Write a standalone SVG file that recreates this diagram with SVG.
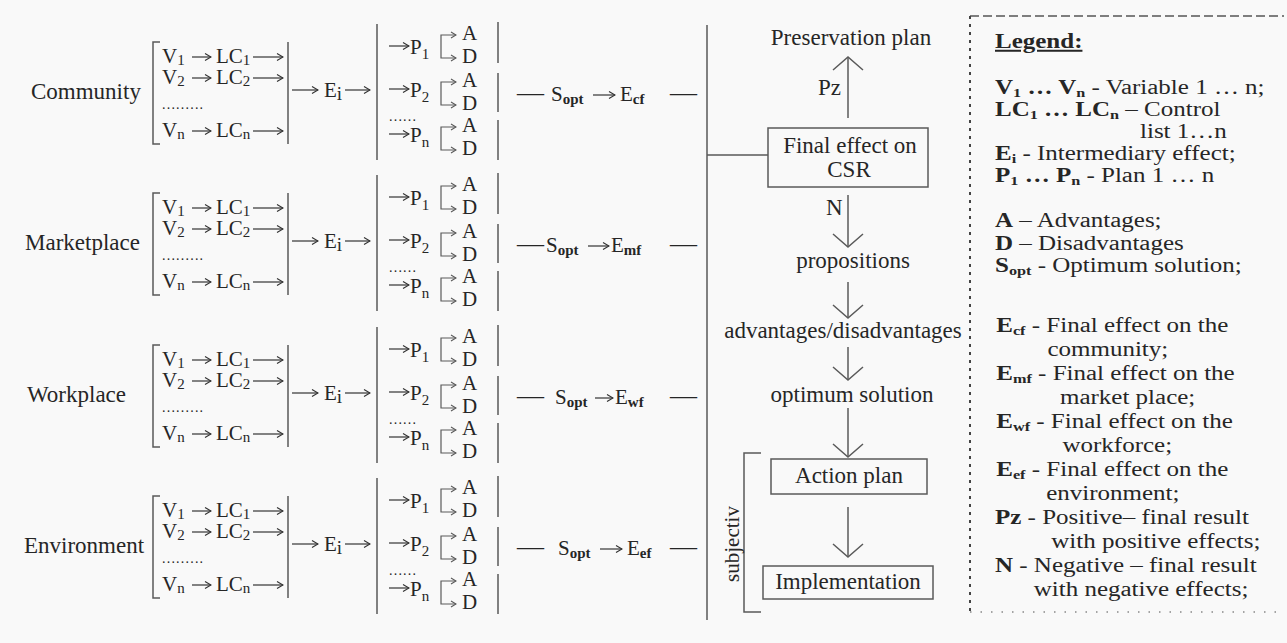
<svg xmlns="http://www.w3.org/2000/svg" width="1287" height="643" viewBox="0 0 1287 643">
<style>
.t{font-family:"Liberation Serif","Tinos","DejaVu Serif","Noto Serif",serif;fill:#262626}
.lb{font-size:23px}
.f{font-size:21px}
.s{font-size:15px}
.bs{font-size:15px;font-weight:bold}
.dots{font-size:14px;letter-spacing:1.2px}
.dash{font-size:27px}
.ln{stroke:#5a5a5a;stroke-width:1.5;fill:none}
.ar{stroke:#333;stroke-width:1.2;fill:none;marker-end:url(#ah)}
.ad{stroke:#5a5a5a;stroke-width:1.2;fill:none;marker-end:url(#sm)}
.flow{stroke:#5a5a5a;stroke-width:1.5;fill:none;marker-end:url(#chev)}
.box{fill:none;stroke:#5a5a5a;stroke-width:1.5}
.lg{font-size:20px}
.lgs{font-size:13px;font-weight:bold}
</style>
<defs>
<marker id="ah" markerUnits="userSpaceOnUse" viewBox="-8 -5 9 10" markerWidth="9" markerHeight="10" refX="0" refY="0" orient="auto">
<path d="M-6,-3.5L0,0L-6,3.5" fill="none" stroke="#333" stroke-width="1.2"/>
</marker>
<marker id="sm" markerUnits="userSpaceOnUse" viewBox="-7 -5 8 10" markerWidth="8" markerHeight="10" refX="0" refY="0" orient="auto">
<path d="M-5,-3L0,0L-5,3" fill="none" stroke="#5a5a5a" stroke-width="1.1"/>
</marker>
<marker id="chev" markerUnits="userSpaceOnUse" viewBox="-15 -17 17 34" markerWidth="17" markerHeight="34" refX="0" refY="0" orient="auto">
<path d="M-13,-15L0,0L-13,15" fill="none" stroke="#5a5a5a" stroke-width="1.5"/>
</marker>
</defs>
<rect width="1287" height="643" fill="#f9f9f9"/>

<!-- four dimension rows: variables -> control lists -> intermediary effect -> plans -> optimum -->
<g id="row-community">
<text class="t lb" x="31" y="99">Community</text>
<path class="ln" d="M160,42H153V144H160M288,42V144"/>
<text class="t f" x="162" y="63">V<tspan class="s" dy="2">1</tspan></text><text class="t f" x="216" y="63">LC<tspan class="s" dy="2">1</tspan></text>
<text class="t f" x="162" y="84">V<tspan class="s" dy="2">2</tspan></text><text class="t f" x="216" y="84">LC<tspan class="s" dy="2">2</tspan></text>
<text class="t dots" x="162" y="109">.........</text>
<text class="t f" x="162" y="137">V<tspan class="s" dy="2">n</tspan></text><text class="t f" x="216" y="137">LC<tspan class="s" dy="2">n</tspan></text>
<path class="ar" d="M192,57H211"/><path class="ar" d="M253,57H283"/>
<path class="ar" d="M192,78H211"/><path class="ar" d="M253,78H283"/>
<path class="ar" d="M192,131H211"/><path class="ar" d="M253,131H283"/>
<path class="ar" d="M292,90H318"/><path class="ar" d="M345,90H370"/>
<text class="t f" x="324" y="97">E<tspan dy="3" font-size="19">i</tspan></text>
<path class="ln" d="M377,24V160M498,22V63M498,73V112M498,120V160"/>
<path class="ar" d="M389,46H409"/><path class="ar" d="M389,89H409"/><path class="ar" d="M389,134H409"/>
<text class="t f" x="410" y="54">P<tspan class="s" dy="5">1</tspan></text>
<path class="ad" d="M441,46V35H456"/><path class="ad" d="M441,46V58H456"/>
<text class="t f" x="462" y="40">A</text><text class="t f" x="462" y="63">D</text>
<text class="t f" x="410" y="97">P<tspan class="s" dy="5">2</tspan></text>
<path class="ad" d="M441,93V82H456"/><path class="ad" d="M441,93V105H456"/>
<text class="t f" x="462" y="87">A</text><text class="t f" x="462" y="110">D</text>
<text class="t dots" x="389" y="121">......</text>
<text class="t f" x="410" y="142">P<tspan class="s" dy="5">n</tspan></text>
<path class="ad" d="M441,138V127H456"/><path class="ad" d="M441,138V150H456"/>
<text class="t f" x="462" y="132">A</text><text class="t f" x="462" y="155">D</text>
<text class="t f" y="101"><tspan class="dash" x="517">—</tspan><tspan x="551">S</tspan><tspan class="bs" dy="3">opt</tspan><tspan dy="-3" x="620">E</tspan><tspan class="bs" dy="3">cf</tspan><tspan dy="-3" class="dash" x="670">—</tspan></text>
<path class="ar" d="M593,95H615"/>
</g>

<g id="row-marketplace" transform="translate(0,151)">
<text class="t lb" x="25" y="99">Marketplace</text>
<path class="ln" d="M160,42H153V144H160M288,42V144"/>
<text class="t f" x="162" y="63">V<tspan class="s" dy="2">1</tspan></text><text class="t f" x="216" y="63">LC<tspan class="s" dy="2">1</tspan></text>
<text class="t f" x="162" y="84">V<tspan class="s" dy="2">2</tspan></text><text class="t f" x="216" y="84">LC<tspan class="s" dy="2">2</tspan></text>
<text class="t dots" x="162" y="109">.........</text>
<text class="t f" x="162" y="137">V<tspan class="s" dy="2">n</tspan></text><text class="t f" x="216" y="137">LC<tspan class="s" dy="2">n</tspan></text>
<path class="ar" d="M192,57H211"/><path class="ar" d="M253,57H283"/>
<path class="ar" d="M192,78H211"/><path class="ar" d="M253,78H283"/>
<path class="ar" d="M192,131H211"/><path class="ar" d="M253,131H283"/>
<path class="ar" d="M292,90H318"/><path class="ar" d="M345,90H370"/>
<text class="t f" x="324" y="97">E<tspan dy="3" font-size="19">i</tspan></text>
<path class="ln" d="M377,24V160M498,22V63M498,73V112M498,120V160"/>
<path class="ar" d="M389,46H409"/><path class="ar" d="M389,89H409"/><path class="ar" d="M389,134H409"/>
<text class="t f" x="410" y="54">P<tspan class="s" dy="5">1</tspan></text>
<path class="ad" d="M441,46V35H456"/><path class="ad" d="M441,46V58H456"/>
<text class="t f" x="462" y="40">A</text><text class="t f" x="462" y="63">D</text>
<text class="t f" x="410" y="97">P<tspan class="s" dy="5">2</tspan></text>
<path class="ad" d="M441,93V82H456"/><path class="ad" d="M441,93V105H456"/>
<text class="t f" x="462" y="87">A</text><text class="t f" x="462" y="110">D</text>
<text class="t dots" x="389" y="121">......</text>
<text class="t f" x="410" y="142">P<tspan class="s" dy="5">n</tspan></text>
<path class="ad" d="M441,138V127H456"/><path class="ad" d="M441,138V150H456"/>
<text class="t f" x="462" y="132">A</text><text class="t f" x="462" y="155">D</text>
<text class="t f" y="101"><tspan class="dash" x="517">—</tspan><tspan x="546">S</tspan><tspan class="bs" dy="3">opt</tspan><tspan dy="-3" x="611">E</tspan><tspan class="bs" dy="3">mf</tspan><tspan dy="-3" class="dash" x="670">—</tspan></text>
<path class="ar" d="M588,95H609"/>
</g>

<g id="row-workplace" transform="translate(0,303)">
<text class="t lb" x="27" y="99">Workplace</text>
<path class="ln" d="M160,42H153V144H160M288,42V144"/>
<text class="t f" x="162" y="63">V<tspan class="s" dy="2">1</tspan></text><text class="t f" x="216" y="63">LC<tspan class="s" dy="2">1</tspan></text>
<text class="t f" x="162" y="84">V<tspan class="s" dy="2">2</tspan></text><text class="t f" x="216" y="84">LC<tspan class="s" dy="2">2</tspan></text>
<text class="t dots" x="162" y="109">.........</text>
<text class="t f" x="162" y="137">V<tspan class="s" dy="2">n</tspan></text><text class="t f" x="216" y="137">LC<tspan class="s" dy="2">n</tspan></text>
<path class="ar" d="M192,57H211"/><path class="ar" d="M253,57H283"/>
<path class="ar" d="M192,78H211"/><path class="ar" d="M253,78H283"/>
<path class="ar" d="M192,131H211"/><path class="ar" d="M253,131H283"/>
<path class="ar" d="M292,90H318"/><path class="ar" d="M345,90H370"/>
<text class="t f" x="324" y="97">E<tspan dy="3" font-size="19">i</tspan></text>
<path class="ln" d="M377,24V160M498,22V63M498,73V112M498,120V160"/>
<path class="ar" d="M389,46H409"/><path class="ar" d="M389,89H409"/><path class="ar" d="M389,134H409"/>
<text class="t f" x="410" y="54">P<tspan class="s" dy="5">1</tspan></text>
<path class="ad" d="M441,46V35H456"/><path class="ad" d="M441,46V58H456"/>
<text class="t f" x="462" y="40">A</text><text class="t f" x="462" y="63">D</text>
<text class="t f" x="410" y="97">P<tspan class="s" dy="5">2</tspan></text>
<path class="ad" d="M441,93V82H456"/><path class="ad" d="M441,93V105H456"/>
<text class="t f" x="462" y="87">A</text><text class="t f" x="462" y="110">D</text>
<text class="t dots" x="389" y="121">......</text>
<text class="t f" x="410" y="142">P<tspan class="s" dy="5">n</tspan></text>
<path class="ad" d="M441,138V127H456"/><path class="ad" d="M441,138V150H456"/>
<text class="t f" x="462" y="132">A</text><text class="t f" x="462" y="155">D</text>
<text class="t f" y="101"><tspan class="dash" x="517">—</tspan><tspan x="555">S</tspan><tspan class="bs" dy="3">opt</tspan><tspan dy="-3" x="615">E</tspan><tspan class="bs" dy="3">wf</tspan><tspan dy="-3" class="dash" x="670">—</tspan></text>
<path class="ar" d="M595,95H613"/>
</g>

<g id="row-environment" transform="translate(0,454)">
<text class="t lb" x="24" y="99">Environment</text>
<path class="ln" d="M160,42H153V144H160M288,42V144"/>
<text class="t f" x="162" y="63">V<tspan class="s" dy="2">1</tspan></text><text class="t f" x="216" y="63">LC<tspan class="s" dy="2">1</tspan></text>
<text class="t f" x="162" y="84">V<tspan class="s" dy="2">2</tspan></text><text class="t f" x="216" y="84">LC<tspan class="s" dy="2">2</tspan></text>
<text class="t dots" x="162" y="109">.........</text>
<text class="t f" x="162" y="137">V<tspan class="s" dy="2">n</tspan></text><text class="t f" x="216" y="137">LC<tspan class="s" dy="2">n</tspan></text>
<path class="ar" d="M192,57H211"/><path class="ar" d="M253,57H283"/>
<path class="ar" d="M192,78H211"/><path class="ar" d="M253,78H283"/>
<path class="ar" d="M192,131H211"/><path class="ar" d="M253,131H283"/>
<path class="ar" d="M292,90H318"/><path class="ar" d="M345,90H370"/>
<text class="t f" x="324" y="97">E<tspan dy="3" font-size="19">i</tspan></text>
<path class="ln" d="M377,24V160M498,22V63M498,73V112M498,120V160"/>
<path class="ar" d="M389,46H409"/><path class="ar" d="M389,89H409"/><path class="ar" d="M389,134H409"/>
<text class="t f" x="410" y="54">P<tspan class="s" dy="5">1</tspan></text>
<path class="ad" d="M441,46V35H456"/><path class="ad" d="M441,46V58H456"/>
<text class="t f" x="462" y="40">A</text><text class="t f" x="462" y="63">D</text>
<text class="t f" x="410" y="97">P<tspan class="s" dy="5">2</tspan></text>
<path class="ad" d="M441,93V82H456"/><path class="ad" d="M441,93V105H456"/>
<text class="t f" x="462" y="87">A</text><text class="t f" x="462" y="110">D</text>
<text class="t dots" x="389" y="121">......</text>
<text class="t f" x="410" y="142">P<tspan class="s" dy="5">n</tspan></text>
<path class="ad" d="M441,138V127H456"/><path class="ad" d="M441,138V150H456"/>
<text class="t f" x="462" y="132">A</text><text class="t f" x="462" y="155">D</text>
<text class="t f" y="101"><tspan class="dash" x="517">—</tspan><tspan x="558">S</tspan><tspan class="bs" dy="3">opt</tspan><tspan dy="-3" x="627">E</tspan><tspan class="bs" dy="3">ef</tspan><tspan dy="-3" class="dash" x="670">—</tspan></text>
<path class="ar" d="M600,95H622"/>
</g>

<!-- decision flow on the final effect -->
<g id="connectors">
<path class="ln" d="M707,25V620M707,155H768"/>
<path class="flow" d="M848,118V57"/>
<path class="flow" d="M848,195V247"/>
<path class="flow" d="M848,282V318"/>
<path class="flow" d="M848,347V380"/>
<path class="flow" d="M848,408V457"/>
<path class="flow" d="M848,507V557"/>
<path class="ln" d="M761,453H744V612H761"/>
</g>
<g id="preservation-plan"><text class="t lb" x="851" y="45" text-anchor="middle">Preservation plan</text></g>
<g id="label-pz"><text class="t lb" x="818" y="95">Pz</text></g>
<g id="final-effect">
<rect class="box" x="768" y="128" width="160" height="59"/>
<text class="t lb" x="850" y="153" text-anchor="middle">Final effect on</text>
<text class="t lb" x="849" y="177" text-anchor="middle">CSR</text>
</g>
<g id="label-n"><text class="t lb" x="826" y="215">N</text></g>
<g id="propositions"><text class="t lb" x="853" y="268" text-anchor="middle">propositions</text></g>
<g id="adv-disadv"><text class="t lb" x="843" y="338" text-anchor="middle">advantages/disadvantages</text></g>
<g id="optimum-solution"><text class="t lb" x="852" y="402" text-anchor="middle">optimum solution</text></g>
<g id="action-plan">
<rect class="box" x="771" y="459" width="156" height="35"/>
<text class="t lb" x="849" y="483" text-anchor="middle">Action plan</text>
</g>
<g id="implementation">
<rect class="box" x="763" y="566" width="170" height="33"/>
<text class="t lb" x="848" y="589" text-anchor="middle">Implementation</text>
</g>
<g id="subjectiv"><text class="t" font-size="21" text-anchor="middle" transform="translate(739,544) rotate(-90)">subjectiv</text></g>

<!-- legend -->
<g id="legend">
<line x1="970" y1="16" x2="1284" y2="16" stroke="#555" stroke-width="1.5" stroke-dasharray="9 4"/>
<line x1="970" y1="16" x2="970" y2="612" stroke="#444" stroke-width="2" stroke-dasharray="3 5"/>
<line x1="970" y1="612" x2="1284" y2="612" stroke="#888" stroke-width="1.5" stroke-dasharray="1.5 9"/>
<g transform="translate(995,0) scale(1.25,1)">
<text class="t lg" x="0" y="48" font-weight="bold" text-decoration="underline">Legend:</text>
<text class="t lg" x="0" y="94"><tspan font-weight="bold">V<tspan class="lgs" dy="3">1</tspan><tspan dy="-3"> … V</tspan><tspan class="lgs" dy="3">n</tspan></tspan><tspan dy="-3"> - Variable 1  … n;</tspan></text>
<text class="t lg" x="0" y="116"><tspan font-weight="bold">LC<tspan class="lgs" dy="3">1</tspan><tspan dy="-3"> … LC</tspan><tspan class="lgs" dy="3">n</tspan></tspan><tspan dy="-3"> – Control</tspan></text>
<text class="t lg" x="116" y="138">list 1…n</text>
<text class="t lg" x="0" y="160"><tspan font-weight="bold">E<tspan class="lgs" dy="3">i</tspan></tspan><tspan dy="-3"> - Intermediary effect;</tspan></text>
<text class="t lg" x="0" y="182"><tspan font-weight="bold">P<tspan class="lgs" dy="3">1</tspan><tspan dy="-3"> … P</tspan><tspan class="lgs" dy="3">n</tspan></tspan><tspan dy="-3"> - Plan 1 … n</tspan></text>
<text class="t lg" x="0" y="227"><tspan font-weight="bold">A</tspan> – Advantages;</text>
<text class="t lg" x="0" y="250"><tspan font-weight="bold">D</tspan> – Disadvantages</text>
<text class="t lg" x="0" y="272"><tspan font-weight="bold">S<tspan class="lgs" dy="3">opt</tspan></tspan><tspan dy="-3"> - Optimum solution;</tspan></text>
<text class="t lg" x="1" y="332"><tspan font-weight="bold">E<tspan class="lgs" dy="3">cf</tspan></tspan><tspan dy="-3"> - Final effect on the</tspan></text>
<text class="t lg" x="42" y="356">community;</text>
<text class="t lg" x="1" y="380"><tspan font-weight="bold">E<tspan class="lgs" dy="3">mf</tspan></tspan><tspan dy="-3"> - Final effect on the</tspan></text>
<text class="t lg" x="52" y="404">market place;</text>
<text class="t lg" x="1" y="428"><tspan font-weight="bold">E<tspan class="lgs" dy="3">wf</tspan></tspan><tspan dy="-3"> - Final effect on the</tspan></text>
<text class="t lg" x="54" y="452">workforce;</text>
<text class="t lg" x="1" y="476"><tspan font-weight="bold">E<tspan class="lgs" dy="3">ef</tspan></tspan><tspan dy="-3"> - Final effect on the</tspan></text>
<text class="t lg" x="41" y="500">environment;</text>
<text class="t lg" x="0" y="524"><tspan font-weight="bold">Pz</tspan> - Positive– final result</text>
<text class="t lg" x="45" y="548">with positive effects;</text>
<text class="t lg" x="0" y="572"><tspan font-weight="bold">N</tspan> - Negative – final result</text>
<text class="t lg" x="31" y="596">with negative effects;</text>
</g>
</g>
</svg>
